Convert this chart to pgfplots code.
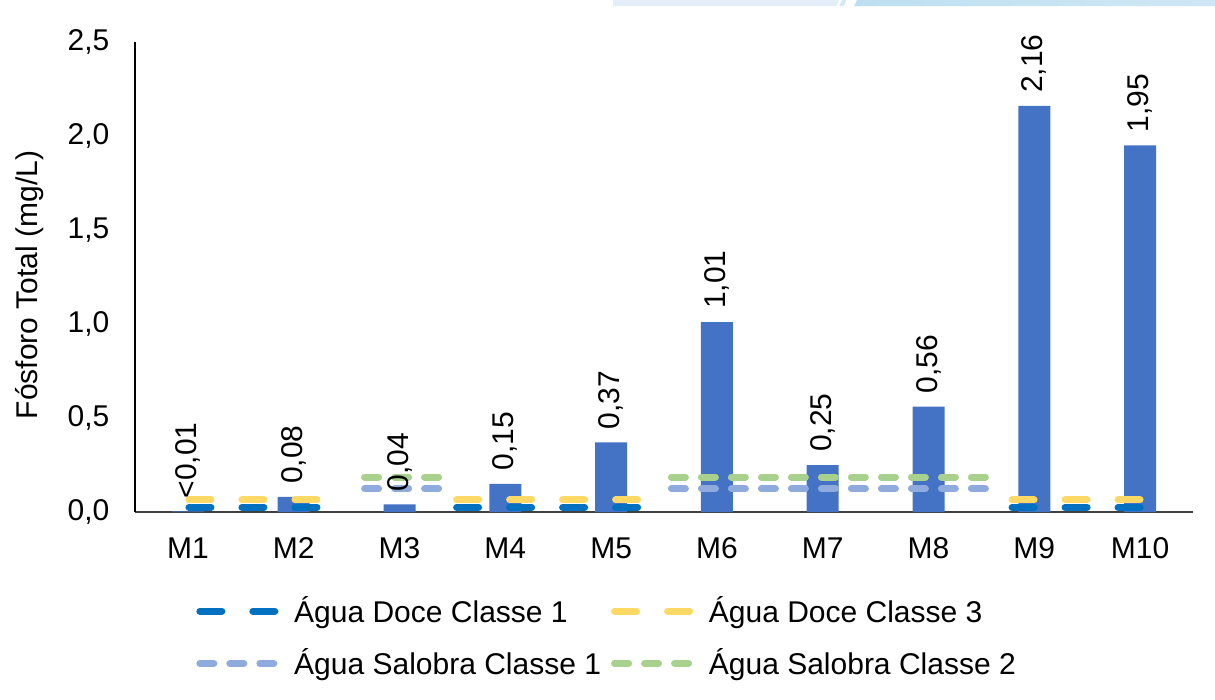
\documentclass[border=0pt]{standalone}
\usepackage{fontspec}
\setmainfont{Liberation Sans}
\usepackage{pgfplots}
\usepackage{pgfplotstable}
\pgfplotsset{compat=1.18}

\definecolor{barblue}{HTML}{4472C4}
\definecolor{doceum}{HTML}{0070C0}
\definecolor{docetres}{HTML}{FFD966}
\definecolor{salum}{HTML}{8FAADC}
\definecolor{saldois}{HTML}{A9D18E}
\definecolor{bannerpale}{HTML}{E3EEF8}
\definecolor{bannerdark}{HTML}{BDDFF1}
\definecolor{bannerend}{HTML}{CFE7F4}

% Fósforo total por ponto de amostragem
\pgfplotstableread{
x  y     lab
1  0.003 <0,01
2  0.08  0,08
3  0.04  0,04
4  0.15  0,15
5  0.37  0,37
6  1.01  1,01
7  0.25  0,25
8  0.56  0,56
9  2.16  2,16
10 1.95  1,95
}\fosforo

\begin{document}
\begin{tikzpicture}
  % picture frame (1 px of the reference = 0.35pt)
  \path[use as bounding box] (-47.25pt,-65.45pt) rectangle (378pt,179.2pt);
  \fill[bannerpale] (167.3pt,179.2pt) -- (246.5pt,179.2pt) -- (245.5pt,177.1pt) -- (167.3pt,177.1pt) -- cycle;
  \fill[bannerdark!70] (247.5pt,179.2pt) -- (249pt,179.2pt) -- (248pt,177.1pt) -- (246.5pt,177.1pt) -- cycle;
  \shade[left color=bannerdark, right color=bannerend] (252.7pt,179.2pt) -- (378pt,179.2pt) -- (378pt,177.1pt) -- (251.7pt,177.1pt) -- cycle;

  \begin{axis}[
      scale only axis,
      width=370.3pt,
      height=164.5pt,
      font=\fontsize{10.5pt}{12.6pt}\selectfont,
      xmin=0.5, xmax=10.5,
      ymin=0, ymax=2.5,
      xtick={1,...,10},
      xticklabels={M1,M2,M3,M4,M5,M6,M7,M8,M9,M10},
      ytick={0,0.5,1,1.5,2,2.5},
      yticklabel style={anchor=east, inner sep=0pt, xshift=-8.75pt,
          /pgf/number format/fixed,
          /pgf/number format/fixed zerofill,
          /pgf/number format/precision=1,
          /pgf/number format/use comma,
          /pgf/number format/assume math mode=true},
      axis x line*=bottom,
      axis y line*=left,
      axis line style={-},
      x axis line style={black!75, line width=0.7pt},
      y axis line style={black, line width=0.7pt},
      major tick length=0pt,
      xticklabel style={anchor=north, inner sep=0pt, yshift=-8.75pt},
      ylabel={Fósforo Total (mg/L)},
      ylabel style={at={(axis description cs:-0.0992,0.483)}, anchor=center},
      unbounded coords=jump,
      clip=false,
      legend columns=2,
      legend cell align=left,
      legend style={
          at={(axis description cs:0.058,-0.1787)}, anchor=north west,
          draw=none, fill=none, inner sep=0pt, outer sep=0pt,
          row sep=7.7pt,
          nodes={inner sep=0pt},
          /tikz/every odd column/.append style={column sep=3.8pt},
          /tikz/every even column/.append style={column sep=3.5pt}},
      legend image code/.code={\draw[#1] (0pt,0pt) -- (28pt,0pt);},
      docelinha/.style={line width=2.45pt, line cap=round,
          dash pattern=on 7.7pt off 10.85pt},
      salinha/.style={line width=2.45pt, line cap=round,
          dash pattern=on 4.9pt off 5.6pt},
    ]
    % bars
    \addplot[ybar, bar width=11.2pt, fill=barblue, draw=none, forget plot]
      table[x=x, y=y] {\fosforo};

    % limits (CONAMA 357) as dashed segments
    \addplot[docelinha, doceum] coordinates {
        (1.01,0.025) (2.24,0.025) (3,nan)
        (3.54,0.025) (5.26,0.025) (6,nan)
        (8.79,0.025) (10.0,0.025)};
    \addlegendentry{Água Doce Classe 1}
    \addplot[docelinha, docetres] coordinates {
        (1.01,0.065) (2.24,0.065) (3,nan)
        (3.54,0.065) (5.26,0.065) (6,nan)
        (8.79,0.065) (10.0,0.065)};
    \addlegendentry{Água Doce Classe 3}
    \addplot[salinha, salum] coordinates {
        (2.67,0.124) (3.37,0.124) (4,nan)
        (5.57,0.124) (8.54,0.124)};
    \addlegendentry{Água Salobra Classe 1}
    \addplot[salinha, saldois] coordinates {
        (2.67,0.186) (3.37,0.186) (4,nan)
        (5.57,0.186) (8.54,0.186)};
    \addlegendentry{Água Salobra Classe 2}

    % value labels on top of everything
    \addplot[ybar, bar width=11.2pt, draw=none, fill=none, forget plot,
        nodes near coords, point meta=explicit symbolic,
        every node near coord/.append style={rotate=90, anchor=west,
            inner xsep=4.4pt, inner ysep=0pt, text=black}]
      table[x=x, y=y, meta=lab] {\fosforo};
  \end{axis}
\end{tikzpicture}
\end{document}
